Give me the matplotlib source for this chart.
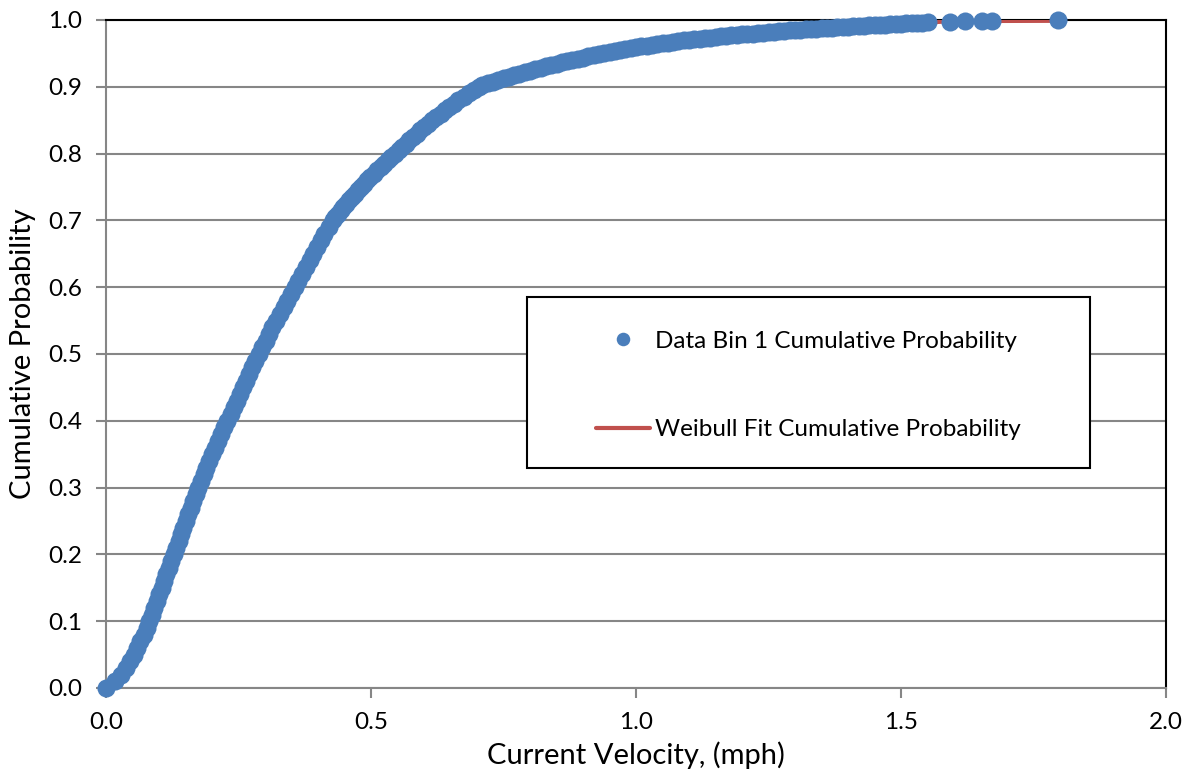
import matplotlib
matplotlib.use("Agg")
import matplotlib.pyplot as plt
from matplotlib.patches import Rectangle

plt.rcParams['font.family'] = ['Lato', 'DejaVu Sans']

# ---------------- data ----------------
# steep part: cumulative probability and the velocity read at each level
data_p_low = [0.00, 0.01, 0.02, 0.03, 0.04, 0.05, 0.06, 0.07, 0.08, 0.09,
              0.10, 0.11, 0.12, 0.13, 0.14, 0.15, 0.16, 0.17, 0.18, 0.19,
              0.20, 0.21, 0.22, 0.23, 0.24, 0.25, 0.26, 0.27, 0.28, 0.29,
              0.30, 0.31, 0.32, 0.33, 0.34, 0.35, 0.36, 0.37, 0.38, 0.39,
              0.40, 0.41, 0.42, 0.43, 0.44, 0.45, 0.46, 0.47, 0.48, 0.49,
              0.50, 0.51, 0.52, 0.53, 0.54, 0.55, 0.56, 0.57, 0.58, 0.59,
              0.60, 0.61, 0.62, 0.63, 0.64, 0.65, 0.66, 0.67, 0.68, 0.69,
              0.700, 0.705, 0.710, 0.715, 0.720, 0.725, 0.730, 0.735, 0.740, 0.745,
              0.750, 0.755, 0.760, 0.765, 0.770, 0.775, 0.780, 0.785, 0.790, 0.795,
              0.800, 0.805, 0.810, 0.815, 0.820, 0.825, 0.830, 0.835, 0.840, 0.845,
              0.850, 0.855, 0.860, 0.865, 0.870, 0.875, 0.880, 0.885, 0.890, 0.895,
              0.900]
data_v_low = [0.000, 0.017, 0.029, 0.038, 0.046, 0.053, 0.059, 0.065, 0.071, 0.077,
              0.082, 0.087, 0.0915, 0.096, 0.100, 0.105, 0.1095, 0.114, 0.1185, 0.123,
              0.128, 0.1325, 0.137, 0.1415, 0.146, 0.151, 0.1555, 0.160, 0.1645, 0.169,
              0.174, 0.179, 0.184, 0.1895, 0.195, 0.2005, 0.206, 0.2115, 0.217, 0.223,
              0.229, 0.235, 0.241, 0.247, 0.253, 0.259, 0.265, 0.2705, 0.276, 0.282,
              0.288, 0.294, 0.301, 0.307, 0.314, 0.321, 0.328, 0.335, 0.342, 0.349,
              0.356, 0.363, 0.370, 0.377, 0.384, 0.391, 0.398, 0.405, 0.412, 0.420,
              0.4280, 0.4327, 0.4375, 0.4425, 0.4475, 0.4527, 0.4580, 0.4635, 0.4690, 0.4747,
              0.4805, 0.4865, 0.4925, 0.4987, 0.5050, 0.5115, 0.5180, 0.5247, 0.5315, 0.5385,
              0.5455, 0.5520, 0.5585, 0.5652, 0.5720, 0.5790, 0.5860, 0.5932, 0.6005, 0.6080,
              0.6155, 0.6235, 0.6315, 0.6397, 0.6480, 0.6565, 0.6650, 0.6747, 0.6845, 0.6945,
              0.7045]

# flat tail: velocity and the cumulative probability read at each
data_v_high = [0.71, 0.72, 0.73, 0.74, 0.75, 0.76, 0.77, 0.78, 0.79, 0.80,
               0.81, 0.82, 0.83, 0.84, 0.85, 0.86, 0.87, 0.88, 0.89, 0.90,
               0.91, 0.92, 0.93, 0.94, 0.95, 0.96, 0.97, 0.98, 0.99, 1.00,
               1.01, 1.02, 1.03, 1.04, 1.05, 1.06, 1.07, 1.08, 1.09, 1.10,
               1.11, 1.12, 1.13, 1.14, 1.15, 1.16, 1.17, 1.18, 1.19, 1.20,
               1.21, 1.22, 1.23, 1.24, 1.25, 1.26, 1.27, 1.28, 1.29, 1.30,
               1.31, 1.32, 1.33, 1.34, 1.35, 1.36, 1.37, 1.38, 1.39, 1.40,
               1.41, 1.42, 1.43, 1.44, 1.45, 1.46, 1.47, 1.48, 1.49, 1.50,
               1.51, 1.52, 1.53, 1.54, 1.55,
               1.592, 1.621, 1.653, 1.672, 1.796]
data_p_high = [0.9025, 0.9052, 0.9077, 0.9101, 0.9125, 0.9148, 0.9172, 0.9195, 0.9218, 0.9242,
               0.9263, 0.9284, 0.9305, 0.9326, 0.9345, 0.9364, 0.9382, 0.9400, 0.9419, 0.9438,
               0.9456, 0.9473, 0.9490, 0.9506, 0.9521, 0.9536, 0.9550, 0.9564, 0.9578, 0.9591,
               0.9604, 0.9616, 0.9628, 0.9640, 0.9651, 0.9662, 0.9673, 0.9684, 0.9694, 0.9704,
               0.9713, 0.9722, 0.9730, 0.9738, 0.9746, 0.9754, 0.9762, 0.9769, 0.9776, 0.9783,
               0.9790, 0.9797, 0.9802, 0.9809, 0.9816, 0.9823, 0.9830, 0.9837, 0.9844, 0.9850,
               0.9856, 0.9861, 0.9866, 0.9871, 0.9876, 0.9881, 0.9886, 0.9891, 0.9896, 0.9900,
               0.9905, 0.9909, 0.9914, 0.9918, 0.9923, 0.9927, 0.9932, 0.9936, 0.9941, 0.9945,
               0.9949, 0.9953, 0.9957, 0.9961, 0.9965,
               0.9972, 0.9978, 0.9983, 0.9988, 0.9997]

# Weibull fit curve
fit_v = [0.000, 0.025, 0.05, 0.075, 0.10, 0.15, 0.20, 0.25, 0.30, 0.35, 0.40, 0.45,
         0.50, 0.55, 0.60, 0.65, 0.70, 0.80, 0.90, 1.00, 1.20, 1.40, 1.60, 1.80]
fit_p = [0.000, 0.015, 0.040, 0.085, 0.140, 0.250, 0.350, 0.435, 0.520, 0.590, 0.655, 0.720,
         0.765, 0.803, 0.840, 0.868, 0.897, 0.924, 0.944, 0.959, 0.978, 0.990, 0.9984, 0.9988]

x_ticks = [0.0, 0.5, 1.0, 1.5, 2.0]
x_tick_labels = ['0.0', '0.5', '1.0', '1.5', '2.0']
y_ticks = [0.0, 0.1, 0.2, 0.3, 0.4, 0.5, 0.6, 0.7, 0.8, 0.9, 1.0]
y_tick_labels = ['0.0', '0.1', '0.2', '0.3', '0.4', '0.5', '0.6', '0.7', '0.8', '0.9', '1.0']

series_data_label = 'Data Bin 1 Cumulative Probability'
series_fit_label = 'Weibull Fit Cumulative Probability'
x_label = 'Current Velocity, (mph)'
y_label = 'Cumulative Probability'

# ---------------- drawing ----------------
W, H = 1190, 779
fig = plt.figure(figsize=(W / 100, H / 100), dpi=100)
L, R, T, B = 106, 1166, 20, 688
ax = fig.add_axes([L / W, 1 - B / H, (R - L) / W, (B - T) / H])

blue = '#4A7EBB'
red = '#C0504D'
grey = '#868686'

fit_line, = ax.plot(fit_v, fit_p, color=red, lw=3, zorder=3,
                    solid_capstyle='round', label=series_fit_label)
dots, = ax.plot(data_v_low + data_v_high, data_p_low + data_p_high, ls='none',
                marker='o', ms=13, color=blue, mec=blue, mew=0,
                zorder=4, clip_on=False, label=series_data_label)

ax.set_xlim(0, 2.0)
ax.set_ylim(0, 1.0)
ax.set_xticks(x_ticks, x_tick_labels)
ax.set_yticks(y_ticks, y_tick_labels)

ax.yaxis.grid(True, color=grey, lw=1.5)
ax.set_axisbelow(True)

for s in ('left', 'bottom'):
    ax.spines[s].set_color(grey)
    ax.spines[s].set_linewidth(1.5)
for s in ('top', 'right'):
    ax.spines[s].set_color('black')
    ax.spines[s].set_linewidth(1.5)

ax.tick_params(direction='out', length=7, width=1.5, color=grey,
               labelsize=17.5, labelcolor='black', pad=10)

ax.set_xlabel(x_label, fontsize=21, labelpad=6)
ax.set_ylabel(y_label, fontsize=21, labelpad=9)

# legend box
lx0, lx1, ly0, ly1 = 527, 1090, 297, 468
box = Rectangle(((lx0 - L) / (R - L), (B - ly1) / (B - T)),
                (lx1 - lx0) / (R - L), (ly1 - ly0) / (B - T),
                transform=ax.transAxes, facecolor='white', edgecolor='black',
                lw=1.5, zorder=5)
ax.add_patch(box)
cx = ((lx0 + lx1) / 2 - L) / (R - L)
cy = (B - ((ly0 + ly1) / 2 + 3)) / (B - T)
leg = ax.legend([dots, fit_line], [series_data_label, series_fit_label],
                loc='center', bbox_to_anchor=(cx, cy), frameon=False,
                fontsize=17.5, handlelength=2.2, handletextpad=0.2,
                labelspacing=2.77, numpoints=1, markerscale=0.75)
leg.set_zorder(6)

fig.savefig('out.png', dpi=100)
